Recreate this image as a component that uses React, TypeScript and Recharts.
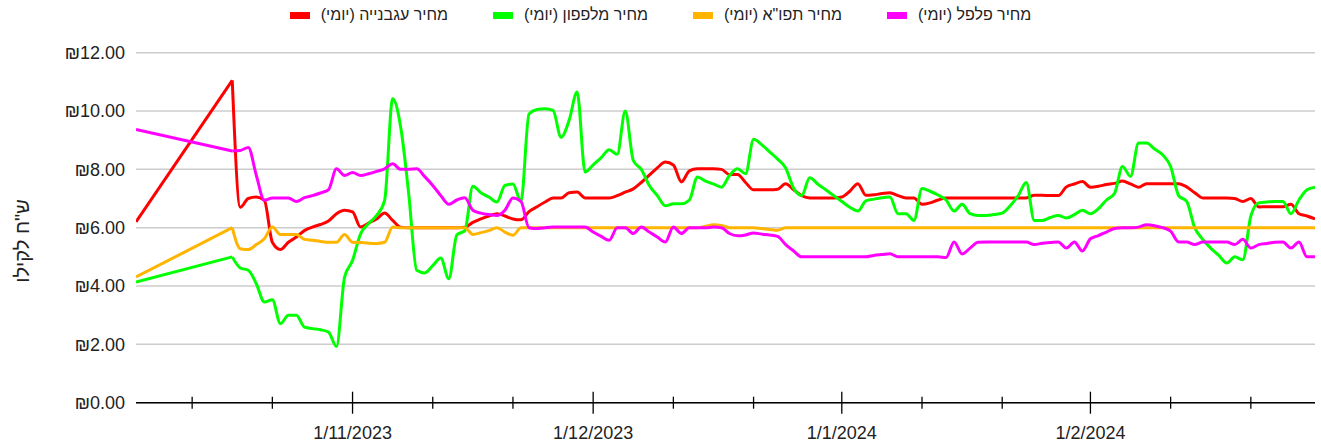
import React from 'react';
import { LineChart, Line, XAxis, YAxis, CartesianGrid } from 'recharts';

const dates = [
  '2023-10-05',
  '2023-10-17','2023-10-18','2023-10-19','2023-10-20','2023-10-21','2023-10-22','2023-10-23','2023-10-24',
  '2023-10-25','2023-10-26','2023-10-27','2023-10-28','2023-10-29','2023-10-30','2023-10-31',
  '2023-11-01','2023-11-02','2023-11-03','2023-11-04','2023-11-05','2023-11-06','2023-11-07','2023-11-08','2023-11-09','2023-11-10',
  '2023-11-11','2023-11-12','2023-11-13','2023-11-14','2023-11-15','2023-11-16','2023-11-17','2023-11-18','2023-11-19','2023-11-20',
  '2023-11-21','2023-11-22','2023-11-23','2023-11-24','2023-11-25','2023-11-26','2023-11-27','2023-11-28','2023-11-29','2023-11-30',
  '2023-12-01','2023-12-02','2023-12-03','2023-12-04','2023-12-05','2023-12-06','2023-12-07','2023-12-08','2023-12-09','2023-12-10',
  '2023-12-11','2023-12-12','2023-12-13','2023-12-14','2023-12-15','2023-12-16','2023-12-17','2023-12-18','2023-12-19','2023-12-20',
  '2023-12-21','2023-12-22','2023-12-23','2023-12-24','2023-12-25','2023-12-26','2023-12-27','2023-12-28','2023-12-29','2023-12-30',
  '2023-12-31',
  '2024-01-01','2024-01-02','2024-01-03','2024-01-04','2024-01-05','2024-01-06','2024-01-07','2024-01-08','2024-01-09','2024-01-10',
  '2024-01-11','2024-01-12','2024-01-13','2024-01-14','2024-01-15','2024-01-16','2024-01-17','2024-01-18','2024-01-19','2024-01-20',
  '2024-01-21','2024-01-22','2024-01-23','2024-01-24','2024-01-25','2024-01-26','2024-01-27','2024-01-28','2024-01-29','2024-01-30',
  '2024-01-31',
  '2024-02-01','2024-02-02','2024-02-03','2024-02-04','2024-02-05','2024-02-06','2024-02-07','2024-02-08','2024-02-09','2024-02-10',
  '2024-02-11','2024-02-12','2024-02-13','2024-02-14','2024-02-15','2024-02-16','2024-02-17','2024-02-18','2024-02-19','2024-02-20',
  '2024-02-21','2024-02-22','2024-02-23','2024-02-24','2024-02-25','2024-02-26','2024-02-27','2024-02-28','2024-02-29',
];

// מחיר עגבנייה (יומי)
const tomato = [
  6.2,
  11.05, 6.7, 7.0, 7.05, 6.94, 5.5, 5.25, 5.5, 5.68, 5.9, 6.02, 6.11, 6.23, 6.48, 6.6,
  6.54, 6.02, 6.16, 6.3, 6.5, 6.25, 6.02, 6.0, 6.0, 6.0,
  6.0, 6.0, 6.0, 6.0, 6.02, 6.18, 6.3, 6.4, 6.48, 6.4,
  6.3, 6.27, 6.55, 6.72, 6.88, 7.02, 7.02, 7.2, 7.22, 7.02,
  7.02, 7.02, 7.02, 7.1, 7.22, 7.33, 7.55, 7.8, 8.05, 8.25,
  8.15, 7.57, 7.95, 8.02, 8.02, 8.02, 8.0, 7.82, 7.82, 7.55,
  7.3, 7.3, 7.3, 7.32, 7.51, 7.3, 7.1, 7.02, 7.02, 7.02,
  7.02,
  7.05, 7.25, 7.51, 7.11, 7.13, 7.17, 7.2, 7.1, 7.02, 7.02,
  6.8, 6.85, 6.95, 7.02, 7.02, 7.02, 7.02, 7.02, 7.02, 7.02,
  7.02, 7.02, 7.02, 7.02, 7.11, 7.11, 7.1, 7.1, 7.4, 7.5,
  7.58,
  7.39, 7.42, 7.48, 7.52, 7.6, 7.5, 7.39, 7.51, 7.51, 7.51,
  7.51, 7.51, 7.4, 7.2, 7.02, 7.02, 7.02, 7.02, 7.0, 6.9,
  7.0, 6.71, 6.72, 6.72, 6.72, 6.8, 6.48, 6.4, 6.3,
];

// מחיר מלפפון (יומי)
const cucumber = [
  4.14,
  5.0, 4.62, 4.54, 4.08, 3.45, 3.53, 2.71, 3.0, 3.0, 2.59, 2.54, 2.5, 2.42, 1.93, 4.3,
  4.88, 5.79, 6.14, 6.42, 6.94, 10.42, 9.45, 7.17, 4.54, 4.45,
  4.7, 4.96, 4.25, 5.75, 5.9, 7.42, 7.2, 7.05, 6.88, 7.45,
  7.5, 6.9, 9.9, 10.05, 10.08, 10.02, 9.1, 9.68, 10.65, 7.91,
  8.15, 8.4, 8.67, 8.52, 10.0, 8.31, 8.0, 7.45, 7.1, 6.75,
  6.82, 6.82, 6.95, 7.74, 7.6, 7.5, 7.39, 7.79, 8.02, 7.85,
  9.03, 8.85, 8.6, 8.35, 8.05, 7.35, 7.1, 7.71, 7.5, 7.3,
  7.1,
  6.9, 6.7, 6.57, 6.92, 6.98, 7.03, 7.05, 6.48, 6.48, 6.25,
  7.34, 7.25, 7.12, 6.95, 6.57, 6.8, 6.48, 6.42, 6.42, 6.45,
  6.5, 6.75, 7.1, 7.55, 6.25, 6.25, 6.35, 6.42, 6.33, 6.45,
  6.6,
  6.48, 6.65, 6.95, 7.17, 8.1, 7.76, 8.9, 8.9, 8.7, 8.5,
  8.1, 7.1, 6.9, 6.0, 5.6, 5.3, 5.05, 4.79, 5.0, 4.9,
  6.4, 6.85, 6.88, 6.9, 6.9, 6.48, 6.95, 7.3, 7.39,
];

// מחיר תפו"א (יומי)
const potato = [
  4.31,
  6.0, 5.28, 5.25, 5.42, 5.62, 6.02, 5.77, 5.77, 5.77, 5.6, 5.57, 5.53, 5.5, 5.5, 5.77,
  5.5, 5.49, 5.47, 5.46, 5.5, 6.02, 6.0, 6.0, 6.0, 6.0,
  6.0, 6.0, 6.0, 6.0, 6.0, 5.77, 5.83, 5.9, 6.0, 5.85,
  5.74, 6.0, 6.0, 6.0, 6.0, 6.0, 6.0, 6.0, 6.0, 6.0,
  6.0, 6.0, 6.0, 6.0, 6.0, 6.0, 6.0, 6.0, 6.0, 6.0,
  6.0, 6.0, 6.0, 6.0, 6.05, 6.1, 6.08, 6.0, 6.0, 6.0,
  6.0, 5.97, 5.94, 5.91, 6.0, 6.0, 6.0, 6.0, 6.0, 6.0,
  6.0,
  6.0, 6.0, 6.0, 6.0, 6.0, 6.0, 6.0, 6.0, 6.0, 6.0,
  6.0, 6.0, 6.0, 6.0, 6.0, 6.0, 6.0, 6.0, 6.0, 6.0,
  6.0, 6.0, 6.0, 6.0, 6.0, 6.0, 6.0, 6.0, 6.0, 6.0,
  6.0,
  6.0, 6.0, 6.0, 6.0, 6.0, 6.0, 6.0, 6.0, 6.0, 6.0,
  6.0, 6.0, 6.0, 6.0, 6.0, 6.0, 6.0, 6.0, 6.0, 6.0,
  6.0, 6.0, 6.0, 6.0, 6.0, 6.0, 6.0, 6.0, 6.0,
];

// מחיר פלפל (יומי)
const pepper = [
  9.37,
  8.63, 8.65, 8.75, 7.8, 6.94, 7.02, 7.02, 7.02, 6.9, 7.03, 7.1, 7.19, 7.3, 8.02, 7.79,
  7.89, 7.79, 7.85, 7.93, 8.02, 8.19, 8.0, 8.0, 8.02, 7.75,
  7.45, 7.1, 6.8, 6.95, 7.03, 6.6, 6.5, 6.45, 6.42, 6.6,
  7.02, 6.9, 6.0, 5.97, 6.0, 6.02, 6.02, 6.02, 6.02, 6.02,
  5.85, 5.7, 5.57, 6.0, 6.0, 5.8, 6.02, 5.85, 5.68, 5.51,
  6.02, 5.8, 6.0, 6.0, 6.0, 6.02, 6.0, 5.8, 5.72, 5.75,
  5.82, 5.78, 5.75, 5.7, 5.42, 5.2, 5.0, 5.0, 5.0, 5.0,
  5.0,
  5.0, 5.0, 5.0, 5.0, 5.05, 5.08, 5.11, 5.0, 5.0, 5.0,
  5.0, 5.0, 5.0, 4.98, 5.51, 5.1, 5.3, 5.5, 5.51, 5.51,
  5.51, 5.51, 5.51, 5.51, 5.42, 5.47, 5.49, 5.51, 5.3, 5.51,
  5.2,
  5.62, 5.73, 5.85, 5.97, 6.0, 6.0, 6.02, 6.1, 6.07, 6.0,
  5.88, 5.51, 5.51, 5.42, 5.51, 5.51, 5.51, 5.51, 5.42, 5.6,
  5.3, 5.42, 5.46, 5.5, 5.51, 5.3, 5.51, 5.0, 5.0,
];

const seriesNames = ['מחיר עגבנייה (יומי)', 'מחיר מלפפון (יומי)', 'מחיר תפו"א (יומי)', 'מחיר פלפל (יומי)'];
const seriesKeys = ['tomato', 'cucumber', 'potato', 'pepper'];
const seriesColors = ['#ff0000', '#00ff00', '#ffb400', '#ff00ff'];
const seriesValues = [tomato, cucumber, potato, pepper];

const majorTicks = ['2023-11-01', '2023-12-01', '2024-01-01', '2024-02-01'];
const minorTicks = ['2023-10-12', '2023-10-22', '2023-11-11', '2023-11-21', '2023-12-11', '2023-12-21', '2024-01-11', '2024-01-21', '2024-02-11', '2024-02-21'];
const yTicks = [0, 2, 4, 6, 8, 10, 12];
const yTitle = 'ש"ח לקילו';
const domainStart = '2023-10-05';
const domainEnd = '2024-02-29';
// index of the first point after the missing-data gap (the gap is drawn as a straight segment)
const gapEndIndex = 1;

const ts = (s: string) => Date.parse(s + 'T00:00:00Z');
const FONT = '"Liberation Sans", Arial, "DejaVu Sans", sans-serif';

const data = dates.map((d, i) => {
  const row: Record<string, number | null> = { t: ts(d) };
  seriesKeys.forEach((k, s) => {
    row[k] = i >= gapEndIndex ? seriesValues[s][i] : null;
    row[k + 'Gap'] = i <= gapEndIndex ? seriesValues[s][i] : null;
  });
  return row;
});

const majorSet = new Set(majorTicks.map(ts));
const allTicks = [...majorTicks, ...minorTicks].map(ts).sort((a, b) => a - b);

const fmtDate = (v: number) => {
  const d = new Date(v);
  return `${d.getUTCDate()}/${d.getUTCMonth() + 1}/${d.getUTCFullYear()}`;
};

const XTick = (props: any) => {
  const { x, y, payload } = props;
  const major = majorSet.has(payload.value);
  const h = major ? 11 : 6;
  return (
    <g>
      <line x1={x} x2={x} y1={y - h} y2={y + h} stroke="#000" strokeWidth={1.3} />
      {major && (
        <text x={x} y={y + 36} textAnchor="middle" fontSize={18} fill="#222" fontFamily={FONT}>
          {fmtDate(payload.value)}
        </text>
      )}
    </g>
  );
};

const YTitle = () => (
  <text
    x={22}
    y={241}
    transform="rotate(-90, 22, 241)"
    textAnchor="middle"
    dominantBaseline="central"
    fontSize={20}
    fill="#222"
    fontFamily={FONT}
    direction="rtl"
  >
    {yTitle}
  </text>
);

export default function App() {
  return (
    <div style={{ position: 'absolute', left: 0, top: 0, width: 1321, height: 443, background: '#fff', fontFamily: FONT }}>
      <div
        style={{
          position: 'absolute',
          left: 0,
          top: 4,
          width: 1321,
          height: 22,
          display: 'flex',
          justifyContent: 'center',
          alignItems: 'center',
          gap: 45,
          fontSize: 16,
          color: '#222',
        }}
      >
        {seriesNames.map((n, i) => (
          <div key={n} style={{ display: 'flex', alignItems: 'center', gap: 11 }}>
            <div style={{ width: 20, height: 7, background: seriesColors[i] }} />
            <span dir="rtl" style={{ whiteSpace: 'nowrap' }}>{n}</span>
          </div>
        ))}
      </div>
      <LineChart width={1321} height={443} data={data} margin={{ top: 52.7, right: 6, bottom: 0, left: 0 }}>
        <CartesianGrid vertical={false} stroke="#cccccc" strokeWidth={1.5} />
        <XAxis
          dataKey="t"
          type="number"
          domain={[ts(domainStart), ts(domainEnd)]}
          ticks={allTicks}
          interval={0}
          height={40.3}
          tickSize={0}
          tickMargin={0}
          tickLine={false}
          axisLine={{ stroke: '#000', strokeWidth: 1.5 }}
          tick={<XTick />}
          allowDataOverflow
        />
        <YAxis
          width={136}
          domain={[0, 12]}
          ticks={yTicks}
          interval={0}
          tickFormatter={(v: number) => `₪${v.toFixed(2)}`}
          axisLine={false}
          tickLine={false}
          tickSize={0}
          tickMargin={11}
          tick={{ fontSize: 18, fill: '#222', fontFamily: FONT }}
          label={YTitle}
        />
        {seriesKeys.flatMap((k, i) => [
          <Line
            key={k + 'Gap'}
            type="linear"
            dataKey={k + 'Gap'}
            name={seriesNames[i]}
            stroke={seriesColors[i]}
            strokeWidth={3}
            dot={false}
            activeDot={false}
            legendType="none"
            isAnimationActive={false}
          />,
          <Line
            key={k}
            type="monotone"
            dataKey={k}
            name={seriesNames[i]}
            stroke={seriesColors[i]}
            strokeWidth={3}
            dot={false}
            activeDot={false}
            isAnimationActive={false}
          />,
        ])}
      </LineChart>
    </div>
  );
}
